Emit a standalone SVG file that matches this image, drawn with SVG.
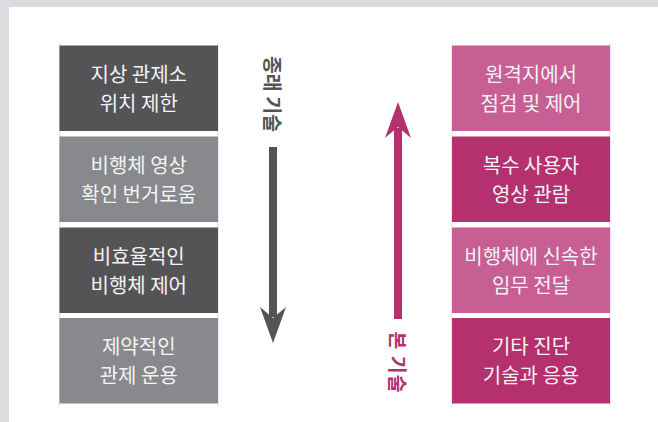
<svg xmlns="http://www.w3.org/2000/svg" width="658" height="422" viewBox="0 0 658 422">
<style>
.t{font-family:"Noto Sans CJK KR","Noto Sans",sans-serif;font-size:20px;fill:#f3f3f3;text-anchor:middle}
.v{font-family:"Noto Sans CJK KR","Noto Sans",sans-serif;font-size:19.5px;font-weight:700;text-anchor:middle}
.dk{fill:#545457}.lg{fill:#88898c}.pl{fill:#c75f94}.pd{fill:#b5306f}
.gl{stroke:#dcdcdc;stroke-width:1}
.pg{stroke:#ead6e0;stroke-width:1}
</style>
<rect x="0" y="0" width="658" height="422" fill="#dcdce0"/>
<rect x="9" y="7" width="649" height="415" fill="#ffffff"/>
<g id="guides">
<line class="gl" x1="59.5" y1="43" x2="59.5" y2="406"/>
<line class="gl" x1="218" y1="43" x2="218" y2="406"/>
<line class="pg" x1="452" y1="43" x2="452" y2="406"/>
<line class="pg" x1="610" y1="43" x2="610" y2="406"/>
</g>
<g id="n1"><rect class="dk" x="59.5" y="45.5" width="158.5" height="85.5"/>
<text class="t" x="138.75" y="82">지상 관제소</text><text class="t" x="138.75" y="111">위치 제한</text></g>
<g id="n2"><rect class="lg" x="59.5" y="136.5" width="158.5" height="85.5"/>
<text class="t" x="138.75" y="172.5">비행체 영상</text><text class="t" x="138.75" y="201.5">확인 번거로움</text></g>
<g id="n3"><rect class="dk" x="59.5" y="227.5" width="158.5" height="85.5"/>
<text class="t" x="138.75" y="263.5">비효율적인</text><text class="t" x="138.75" y="292.5">비행체 제어</text></g>
<g id="n4"><rect class="lg" x="59.5" y="318" width="158.5" height="85.5"/>
<text class="t" x="138.75" y="354">제약적인</text><text class="t" x="138.75" y="383">관제 운용</text></g>
<g id="n5"><rect class="pl" x="452" y="45.5" width="158" height="85.5"/>
<text class="t" x="531" y="82">원격지에서</text><text class="t" x="531" y="111">점검 및 제어</text></g>
<g id="n6"><rect class="pd" x="452" y="136.5" width="158" height="85.5"/>
<text class="t" x="531" y="172.5">복수 사용자</text><text class="t" x="531" y="201.5">영상 관람</text></g>
<g id="n7"><rect class="pl" x="452" y="227.5" width="158" height="85.5"/>
<text class="t" x="531" y="263.5">비행체에 신속한</text><text class="t" x="531" y="292.5">임무 전달</text></g>
<g id="n8"><rect class="pd" x="452" y="318" width="158" height="85.5"/>
<text class="t" x="531" y="354">기타 진단</text><text class="t" x="531" y="383">기술과 응용</text></g>
<g id="connectors">
<rect x="269" y="147" width="8" height="170" fill="#545457"/>
<path d="M260,307 L273,318 L286,307 L273,343 Z" fill="#545457"/>
<rect x="394" y="128" width="8" height="191" fill="#b5306f"/>
<path d="M385,138 L398,127 L411,138 L398,102 Z" fill="#b5306f"/>
</g>
<g id="labels">
<text class="v" fill="#545457" transform="translate(265,94) rotate(90)">종래 기술</text>
<text class="v" fill="#b5306f" letter-spacing="1" transform="translate(390,362.5) rotate(90)">본 기술</text>
</g>
</svg>
